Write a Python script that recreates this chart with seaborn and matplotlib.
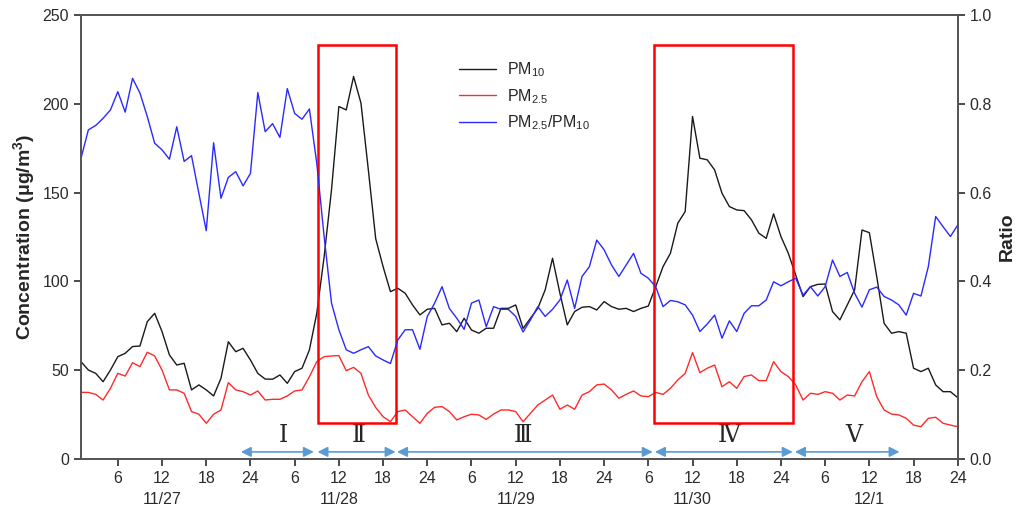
import matplotlib
matplotlib.use('Agg')
import matplotlib.pyplot as plt
import matplotlib.patches as mpatches
from matplotlib.lines import Line2D
import seaborn as sns
import pandas as pd

# hourly data, hour 1 = 11/27 01:00 ... hour 120 = 12/1 24:00
hours = list(range(1, 121))

pm10 = [54.8, 50.1, 48.2, 43.5, 50.1, 57.6, 59.5, 63.3, 63.6, 77.3,
        82.0, 71.7, 58.6, 52.9, 53.9, 38.9, 41.7, 38.9, 35.5, 45.4,
        66.0, 60.4, 62.3, 55.7, 48.2, 45.0, 44.9, 47.3, 42.6, 49.2,
        51.1, 61.4, 82.0, 113.9, 151.5, 198.4, 196.5, 215.3, 200.3, 162.7,
        124.0, 108.3, 94.2, 96.1, 93.3, 86.7, 81.1, 84.3, 84.8, 75.5,
        76.4, 71.7, 79.2, 72.6, 70.8, 73.6, 73.6, 84.8, 84.8, 86.7,
        73.5, 79.2, 84.8, 95.2, 113.0, 93.3, 75.5, 83.0, 85.4, 85.8,
        83.9, 88.6, 85.8, 84.3, 84.8, 83.0, 84.8, 86.1, 97.0, 108.3,
        115.8, 132.7, 139.3, 192.8, 169.3, 168.4, 162.7, 149.6, 142.1, 140.2,
        139.8, 134.6, 127.1, 124.2, 138.0, 125.2, 115.8, 103.6, 91.4, 97.0,
        98.3, 98.5, 83.0, 78.3, 86.7, 95.2, 128.9, 127.4, 102.7, 76.4,
        70.8, 71.7, 70.8, 51.1, 49.2, 51.1, 41.7, 37.9, 37.9, 34.5]

pm25 = [37.5, 37.5, 36.4, 33.2, 39.8, 48.2, 46.7, 54.2, 52.0, 60.1,
        58.0, 50.1, 38.9, 38.9, 37.0, 26.7, 25.2, 20.1, 25.2, 27.6,
        43.0, 38.9, 37.9, 36.0, 38.3, 33.2, 33.6, 33.6, 35.5, 38.3,
        38.9, 46.3, 54.8, 57.6, 58.0, 58.2, 49.7, 51.6, 48.2, 36.0,
        29.0, 23.8, 21.0, 26.7, 27.6, 23.8, 20.1, 25.7, 29.1, 29.5,
        26.7, 22.0, 23.8, 25.2, 24.8, 22.3, 25.3, 27.6, 27.6, 26.7,
        21.0, 25.7, 30.4, 33.2, 36.0, 28.0, 30.4, 28.0, 36.0, 37.9,
        41.7, 42.2, 38.9, 34.2, 36.4, 38.3, 35.5, 35.1, 37.5, 36.4,
        39.8, 44.5, 48.2, 59.9, 48.6, 51.1, 52.9, 40.7, 43.5, 39.8,
        46.4, 47.3, 44.1, 44.1, 54.8, 49.2, 46.4, 41.7, 33.2, 37.0,
        36.4, 37.9, 37.0, 33.2, 36.0, 35.5, 43.5, 49.2, 35.1, 27.6,
        25.3, 24.8, 22.9, 19.1, 18.2, 22.9, 23.5, 20.1, 19.1, 18.2]

ratio = [0.677, 0.741, 0.751, 0.767, 0.786, 0.827, 0.781, 0.857, 0.824, 0.771,
         0.711, 0.696, 0.675, 0.748, 0.670, 0.683, 0.598, 0.514, 0.712, 0.587,
         0.634, 0.647, 0.615, 0.643, 0.825, 0.737, 0.755, 0.724, 0.834, 0.778,
         0.765, 0.788, 0.666, 0.501, 0.351, 0.291, 0.246, 0.238, 0.246, 0.253,
         0.232, 0.223, 0.215, 0.268, 0.291, 0.291, 0.247, 0.321, 0.351, 0.388,
         0.339, 0.317, 0.292, 0.351, 0.358, 0.298, 0.343, 0.337, 0.337, 0.321,
         0.286, 0.313, 0.343, 0.321, 0.337, 0.358, 0.403, 0.339, 0.411, 0.433,
         0.493, 0.471, 0.437, 0.411, 0.437, 0.463, 0.418, 0.407, 0.388, 0.343,
         0.357, 0.354, 0.347, 0.324, 0.287, 0.304, 0.324, 0.272, 0.311, 0.287,
         0.328, 0.345, 0.345, 0.358, 0.399, 0.390, 0.399, 0.407, 0.369, 0.388,
         0.367, 0.388, 0.448, 0.411, 0.420, 0.373, 0.342, 0.381, 0.387, 0.366,
         0.358, 0.347, 0.324, 0.373, 0.367, 0.433, 0.546, 0.523, 0.501, 0.527]

days = ['11/27', '11/28', '11/29', '11/30', '12/1']

# periods (start hour, end hour) and names
period_names = ['Ⅰ', 'Ⅱ', 'Ⅲ', 'Ⅳ', 'Ⅴ']
period_start = [22.7, 33.1, 43.9, 78.9, 97.9]
period_end = [32.6, 43.7, 78.6, 97.6, 112.1]
period_label_x = [28.5, 38.7, 61.0, 89.0, 105.9]

# highlighted episodes (red boxes)
box_start = [33.1, 78.8]
box_end = [43.8, 97.7]
box_low, box_high = 20.3, 233

df = pd.DataFrame({'hour': hours, 'pm10': pm10, 'pm25': pm25, 'ratio': ratio})

sns.set_style('ticks')
plt.rcParams['font.family'] = ['Liberation Sans', 'DejaVu Sans']
plt.rcParams['mathtext.default'] = 'regular'

fig = plt.figure(figsize=(10.2, 5.12), dpi=100)
ax = fig.add_subplot(1, 1, 1)
fig.subplots_adjust(left=0.0794, right=0.939, top=0.971, bottom=0.1035)
ax2 = ax.twinx()

sns.lineplot(data=df, x='hour', y='pm10', ax=ax, color='#1a1a1a', lw=1.0)
sns.lineplot(data=df, x='hour', y='pm25', ax=ax, color='#ff2a2a', lw=1.0)
sns.lineplot(data=df, x='hour', y='ratio', ax=ax2, color='#2a2aff', lw=1.0)

ax.set_xlim(1, 120)
ax.set_ylim(0, 250)
ax2.set_ylim(0, 1.0)

# x ticks every 6 hours, day name under 12 o'clock
ticks = list(range(6, 121, 6))
labels = []
for t in ticks:
    h = t % 24
    lab = str(24 if h == 0 else h)
    if h == 12:
        lab = lab + '\n' + days[t // 24]
    labels.append(lab)
ax.set_xticks(ticks)
ax.set_xticklabels(labels)
for lbl in ax.get_xticklabels():
    lbl.set_linespacing(1.5)

ax.set_yticks([0, 50, 100, 150, 200, 250])
ax2.set_yticks([0.0, 0.2, 0.4, 0.6, 0.8, 1.0])
ax2.set_yticklabels(['0.0', '0.2', '0.4', '0.6', '0.8', '1.0'])

tick_col = '#2b2b2b'
for a in (ax, ax2):
    a.tick_params(labelsize=11.5, colors=tick_col, length=5, width=1.2)
    for s in a.spines.values():
        s.set_visible(True)
        s.set_color('#555555')
        s.set_linewidth(1.3)

ax.set_xlabel('')
ax.set_ylabel('Concentration (μg/m$^3$)', fontsize=14, fontweight='bold', labelpad=4)
ax2.set_ylabel('Ratio', fontsize=14, fontweight='bold', labelpad=5)

# red boxes
for s, e in zip(box_start, box_end):
    ax.add_patch(mpatches.Rectangle((s, box_low), e - s, box_high - box_low,
                                    fill=False, edgecolor='red', lw=1.8, zorder=5))

# period arrows and names
for name, s, e, lx in zip(period_names, period_start, period_end, period_label_x):
    ax.annotate('', xy=(s, 4), xytext=(e, 4),
                arrowprops=dict(arrowstyle='<|-|>', color='#5b9bd5', lw=1.2,
                                mutation_scale=15, shrinkA=0, shrinkB=0))
    ax.text(lx, 12.5, name, ha='center', va='center', fontsize=17,
            family=['Liberation Serif', 'DejaVu Serif', 'Noto Sans CJK SC'])

handles = [Line2D([], [], color='#1a1a1a', lw=1.0),
           Line2D([], [], color='#ff2a2a', lw=1.0),
           Line2D([], [], color='#2a2aff', lw=1.0)]
ax2.legend(handles, ['PM$_{10}$', 'PM$_{2.5}$', 'PM$_{2.5}$/PM$_{10}$'],
           loc='upper left', bbox_to_anchor=(0.415, 0.93), frameon=False,
           fontsize=11.5, handlelength=2.3, handletextpad=0.7, labelspacing=0.5)

fig.savefig('out.png', dpi=100)
